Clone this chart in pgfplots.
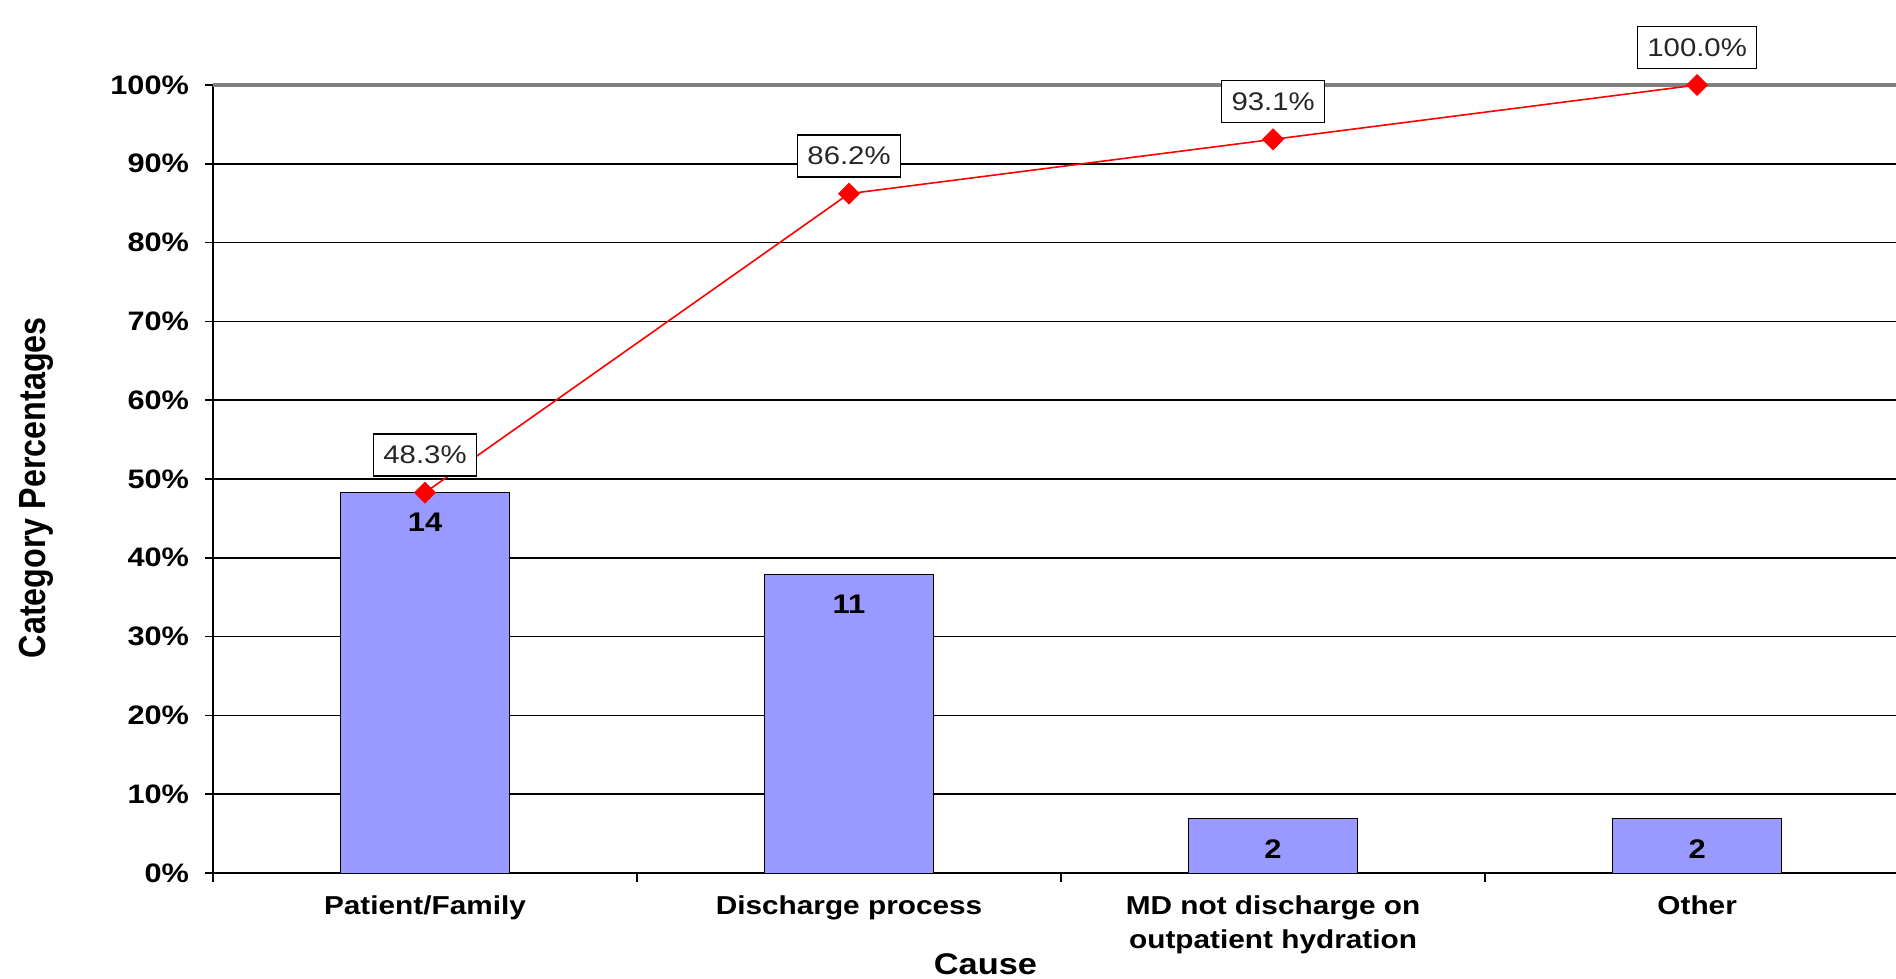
\documentclass[border=0pt]{standalone}
\usepackage{fontspec}
\setmainfont{Liberation Sans}[FakeStretch=1.15]
\newfontfamily\plainfont{Liberation Sans}
\usepackage{pgfplots}
\pgfplotsset{compat=1.18}
\definecolor{barfill}{HTML}{9999FF}
\definecolor{bordergray}{HTML}{808080}
\begin{document}
\begin{tikzpicture}
\begin{axis}[
  at={(0,0)}, anchor=south west,
  scale only axis, width=841.5bp, height=394bp,
  xmin=-0.5, xmax=3.469, ymin=0, ymax=100,
  axis x line*=bottom, axis y line*=left,
  axis line style={black, line width=1.3bp, -},
  ytick={0,10,...,100},
  yticklabel={\pgfmathprintnumber{\tick}\%},
  /pgf/number format/assume math mode=true,
  ymajorgrids, grid style={black, line width=0.8bp},
  tick align=outside, major tick length=4bp,
  y tick style={black, line width=0.75bp},
  y tick label style={font=\bfseries\fontsize{13.4}{16}\selectfont, xshift=-4.5bp},
  xtick={0,1,2,3},
  xticklabels={Patient/Family, Discharge process, {MD not discharge on\\outpatient hydration}, Other},
  x tick label style={font=\bfseries\fontsize{13}{17}\selectfont, align=center, anchor=north, yshift=-4bp},
  x tick style={draw=none},
  extra x ticks={-0.5,0.5,1.5,2.5},
  extra x tick labels={},
  extra x tick style={xmajorgrids=false, major tick length=4.5bp, x tick style={draw=black, line width=0.75bp}},
  clip=false,
]
\addplot[ybar, bar width=0.4, fill=barfill, draw=black, line width=0.5bp,
  point meta=explicit symbolic, nodes near coords,
  every node near coord/.append style={anchor=center, yshift=-15bp, font=\bfseries\fontsize{13.5}{16}\selectfont, text=black}]
 coordinates {(0,48.28) [14] (1,37.93) [11] (2,6.90) [2] (3,6.90) [2]};
\draw[bordergray, line width=2.2bp] (rel axis cs:0,1) -- (rel axis cs:1,1);
\addplot[red, line width=0.8bp, mark=square*, mark size=3.5bp, mark options={rotate=45, fill=red, draw=red},
  point meta=y,
  nodes near coords={\pgfmathprintnumber[fixed, fixed zerofill, precision=1]{\pgfplotspointmeta}\%},
  every node near coord/.append style={anchor=south, yshift=8bp, draw=black, line width=0.6bp, fill=white, inner xsep=5bp, inner ysep=0pt, minimum height=21bp, font=\fontsize{12.8}{15}\selectfont, text=black!85}]
 coordinates {(0,48.28) (1,86.21) (2,93.10) (3,100)};
\node[font=\bfseries\fontsize{15}{18}\selectfont] at (axis description cs:0.459,-0.1155) {Cause};
\node[rotate=90, yscale=1.17, font=\plainfont\bfseries\fontsize{16.2}{19}\selectfont] at (axis description cs:-0.105,0.489) {Category Percentages};
\end{axis}
\pgfresetboundingbox
\path[use as bounding box] (-106.5bp,-53bp) rectangle (841.5bp,436.5bp);
\end{tikzpicture}
\end{document}
